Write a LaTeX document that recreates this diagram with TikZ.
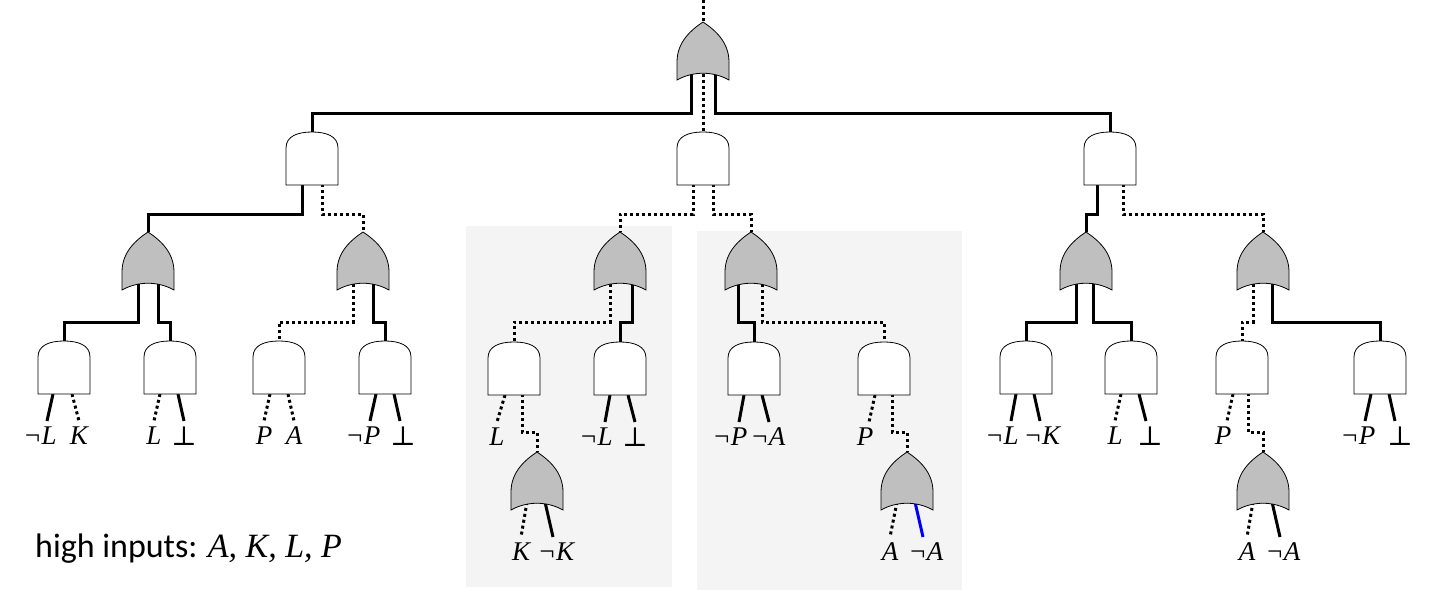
\documentclass[tikz,border=0pt]{standalone}
\usepackage{fontspec}
\setsansfont{Carlito}
\newfontfamily\lblfont{Liberation Serif}
\newfontfamily\symfont{DejaVu Serif}
\newcommand\falsum{{\symfont\upshape ⊥}}
\usetikzlibrary{calc}

\pgfdeclarelayer{panel}
\pgfdeclarelayer{wire}
\pgfsetlayers{panel,wire,main}

\tikzset{
  hi/.style={line width=3pt},
  lo/.style={line width=3pt,dash pattern=on 3pt off 3pt},
  gatebox/.style={inner sep=0pt,minimum size=0pt},
  shade/.style={draw=black,line width=0.8pt,fill=gray!50},
  blank/.style={draw=black,line width=0.8pt,fill=white},
  leaf/.style={anchor=north,inner sep=1pt,yshift=-3pt,font=\lblfont\itshape\fontsize{27}{30}\selectfont},
}

% gates: name, x, top
\newcommand\andgate[3]{%
  \node[gatebox] (#1) at (#2,#3) {};
  \filldraw[blank] (#2-26,#3+53) -- (#2-26,#3+16)
    .. controls (#2-26,#3+4) and (#2-14,#3) .. (#2,#3)
    .. controls (#2+14,#3) and (#2+26,#3+4) .. (#2+26,#3+16)
    -- (#2+26,#3+53) -- cycle;}
\newcommand\orgate[3]{%
  \node[gatebox] (#1) at (#2,#3) {};
  \filldraw[shade] (#2-26,#3+58) -- (#2-26,#3+40)
    .. controls (#2-26,#3+20) and (#2-12,#3+8) .. (#2,#3)
    .. controls (#2+12,#3+8) and (#2+26,#3+20) .. (#2+26,#3+40)
    -- (#2+26,#3+58) .. controls (#2+10,#3+49) and (#2-10,#3+49) .. cycle;}
% wire: style, parent, dx, y of the bend, child
\newcommand\wire[5]{%
  \draw[#1] ($(#2)+(#3,40)$) coordinate (w) -- (w |- 0,#4) -| (#5);}

\begin{document}
\begin{tikzpicture}[x=1pt,y=-1pt]
\useasboundingbox (0,0) rectangle (1435,602);

\begin{pgfonlayer}{panel}
  \fill[gray!9] (466,226) rectangle (672,587);
  \fill[gray!9] (697,231) rectangle (962,590);
\end{pgfonlayer}

\orgate{g0}{703}{22}
\andgate{a1}{312}{132}
\andgate{a2}{703}{132}
\andgate{a3}{1110}{132}
\orgate{o1}{148}{232}
\orgate{o2}{363}{232}
\orgate{o3}{620}{232}
\orgate{o4}{751}{232}
\orgate{o5}{1086}{232}
\orgate{o6}{1263}{232}
\andgate{b1}{64}{341}
\andgate{b2}{170}{341}
\andgate{b3}{279}{341}
\andgate{b4}{385}{341}
\andgate{b5}{514}{342}
\andgate{b6}{620}{342}
\andgate{b7}{754}{342}
\andgate{b8}{884}{342}
\andgate{b9}{1026}{341}
\andgate{b10}{1131}{341}
\andgate{b11}{1242}{341}
\andgate{b12}{1380}{341}
\orgate{c1}{537}{452}
\orgate{c2}{907}{452}
\orgate{c3}{1263}{452}

\begin{pgfonlayer}{wire}
  \coordinate (out) at (703,0);
  \draw[lo] (out) -- (g0);
  \wire{hi}{g0}{-12}{113}{a1}
  \wire{lo}{g0}{0}{113}{a2}
  \wire{hi}{g0}{12}{113}{a3}
  \wire{hi}{a1}{-10}{214}{o1}
  \wire{lo}{a1}{10}{214}{o2}
  \wire{lo}{a2}{-10}{214}{o3}
  \wire{lo}{a2}{10}{214}{o4}
  \wire{hi}{a3}{-13}{214}{o5}
  \wire{lo}{a3}{13}{214}{o6}
  \wire{hi}{o1}{-10}{322}{b1}
  \wire{hi}{o1}{10}{322}{b2}
  \wire{lo}{o2}{-10}{322}{b3}
  \wire{hi}{o2}{10}{322}{b4}
  \wire{lo}{o3}{-10}{322}{b5}
  \wire{hi}{o3}{12}{322}{b6}
  \wire{hi}{o4}{-13}{322}{b7}
  \wire{lo}{o4}{11}{322}{b8}
  \wire{hi}{o5}{-10}{322}{b9}
  \wire{hi}{o5}{7}{322}{b10}
  \wire{lo}{o6}{-10}{322}{b11}
  \wire{hi}{o6}{9}{322}{b12}
  \wire{lo}{b5}{8}{432}{c1}
  \wire{lo}{b8}{8}{432}{c2}
  \wire{lo}{b11}{6}{432}{c3}
  % inputs
  \draw[hi] ($(b1)+(-11,53)$) -- ++(-6,27) node[leaf,xshift=-7pt] {¬L};
  \draw[lo] ($(b1)+(8,53)$) -- ++(7,27) node[leaf] {K};
  \draw[lo] ($(b2)+(-10,53)$) -- ++(-6,27) node[leaf] {L};
  \draw[hi] ($(b2)+(8,53)$) -- ++(6,27) node[leaf] {\falsum};
  \draw[lo] ($(b3)+(-9,53)$) -- ++(-6,27) node[leaf] {P};
  \draw[lo] ($(b3)+(9,53)$) -- ++(6,27) node[leaf] {A};
  \draw[hi] ($(b4)+(-9,53)$) -- ++(-6,27) node[leaf,xshift=-7pt] {¬P};
  \draw[hi] ($(b4)+(9,53)$) -- ++(6,27) node[leaf,xshift=3pt] {\falsum};
  \draw[lo] ($(b5)+(-9,53)$) -- ++(-8,27) node[leaf] {L};
  \draw[hi] ($(b6)+(-10,53)$) -- ++(-5,27) node[leaf,xshift=-9pt] {¬L};
  \draw[hi] ($(b6)+(8,53)$) -- ++(7,27) node[leaf] {\falsum};
  \draw[hi] ($(b7)+(-10,53)$) -- ++(-5,27) node[leaf,xshift=-9pt] {¬P};
  \draw[hi] ($(b7)+(8,53)$) -- ++(7,27) node[leaf,xshift=-1pt] {¬A};
  \draw[lo] ($(b8)+(-9,53)$) -- ++(-6,27) node[leaf,xshift=-4pt] {P};
  \draw[hi] ($(b9)+(-10,53)$) -- ++(-5,27) node[leaf,xshift=-9pt] {¬L};
  \draw[hi] ($(b9)+(8,53)$) -- ++(6,27) node[leaf,xshift=2pt] {¬K};
  \draw[lo] ($(b10)+(-10,53)$) -- ++(-6,27) node[leaf] {L};
  \draw[hi] ($(b10)+(8,53)$) -- ++(7,27) node[leaf,xshift=4pt] {\falsum};
  \draw[lo] ($(b11)+(-9,53)$) -- ++(-6,27) node[leaf,xshift=-4pt] {P};
  \draw[hi] ($(b12)+(-9,53)$) -- ++(-6,27) node[leaf,xshift=-7pt] {¬P};
  \draw[hi] ($(b12)+(9,53)$) -- ++(6,27) node[leaf,xshift=5pt] {\falsum};
  \draw[lo] ($(c1)+(-10,50)$) -- ++(-6,35) node[leaf] {K};
  \draw[hi] ($(c1)+(8,50)$) -- ++(8,35) node[leaf,xshift=3pt] {¬K};
  \draw[lo] ($(c2)+(-10,50)$) -- ++(-7,35) node[leaf] {A};
  \draw[hi,blue] ($(c2)+(8,50)$) -- ++(8,35) node[leaf,black,xshift=3pt] {¬A};
  \draw[lo] ($(c3)+(-10,50)$) -- ++(-6,35) node[leaf] {A};
  \draw[hi] ($(c3)+(9,50)$) -- ++(8,35) node[leaf,xshift=3pt] {¬A};
\end{pgfonlayer}

\node[anchor=base west,inner sep=0pt,font=\sffamily\fontsize{34}{40}\selectfont]
  (key) at (35,557) {high inputs: {\lblfont\itshape A, K, L, P}};
\end{tikzpicture}
\end{document}
